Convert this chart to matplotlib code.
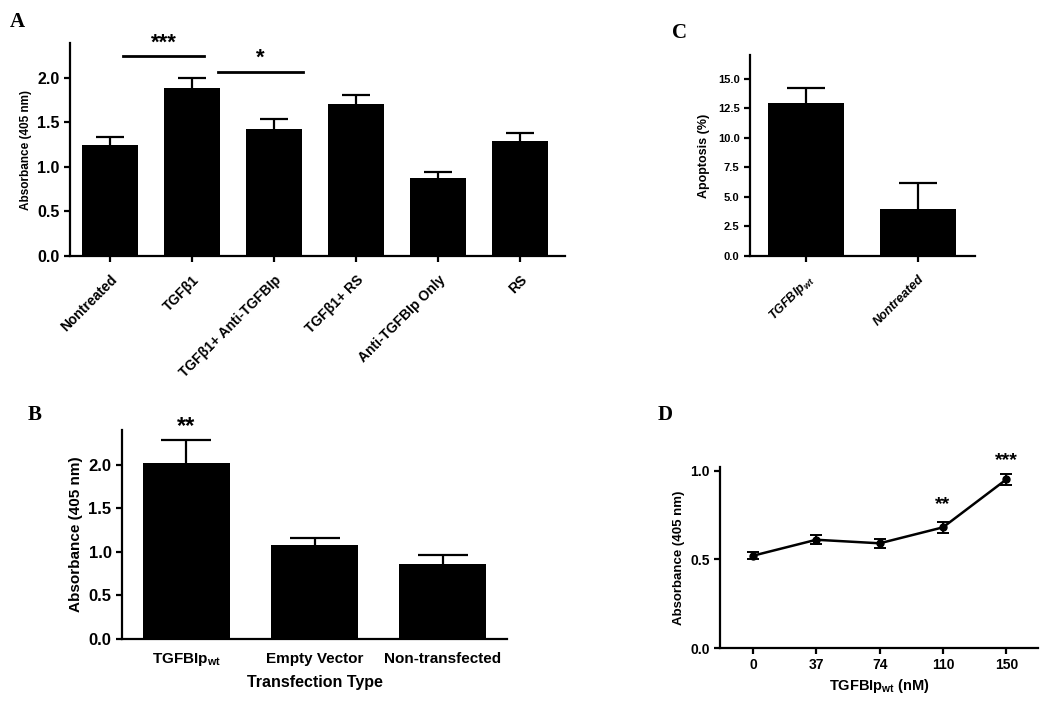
import matplotlib
matplotlib.use("Agg")
import matplotlib.pyplot as plt

plt.rcParams['font.family'] = ['Liberation Sans', 'DejaVu Sans']
plt.rcParams['font.weight'] = 'bold'
plt.rcParams['mathtext.default'] = 'regular'
plt.rcParams['axes.linewidth'] = 1.6

# Panel A
a_labels = ['Nontreated', 'TGFβ1', 'TGFβ1+ Anti-TGFBIp', 'TGFβ1+ RS', 'Anti-TGFBIp Only', 'RS']
a_means = [1.25, 1.89, 1.43, 1.71, 0.88, 1.29]
a_err = [0.09, 0.11, 0.11, 0.10, 0.06, 0.09]

# Panel B
b_labels = ['TGFBIp$_{wt}$', 'Empty Vector', 'Non-transfected']
b_means = [2.02, 1.08, 0.86]
b_err = [0.27, 0.08, 0.11]

# Panel C
c_labels = ['TGFBIp$_{wt}$', 'Nontreated']
c_means = [12.9, 4.0]
c_err = [1.3, 2.2]

# Panel D
d_labels = ['0', '37', '74', '110', '150']
d_means = [0.52, 0.61, 0.59, 0.68, 0.95]
d_err = [0.02, 0.025, 0.025, 0.03, 0.03]

W, H = 1050, 701
fig = plt.figure(figsize=(W / 100, H / 100), dpi=100)


def add_ax(left, right, top, bottom):
    return fig.add_axes([left / W, 1 - bottom / H, (right - left) / W, (bottom - top) / H])


def style(ax, ysize, xsize):
    for s in ['top', 'right']:
        ax.spines[s].set_visible(False)
    ax.tick_params(direction='out', width=1.6, length=4)
    ax.tick_params(axis='y', labelsize=ysize)
    ax.tick_params(axis='x', labelsize=xsize)


def bars(ax, means, err, width, cap):
    x = list(range(len(means)))
    ax.bar(x, means, width=width, color='black')
    _, caps, _ = ax.errorbar(x, means, yerr=[[0] * len(err), err], fmt='none', ecolor='black',
                             elinewidth=1.6, capsize=cap, capthick=1.6)
    caps[0].set_visible(False)  # only the upper half, GraphPad style
    return x


# ---- A ----
ax = add_ax(70, 565, 43, 256)
x = bars(ax, a_means, a_err, 0.69, 10)
ax.set_xlim(-0.49, 5.55)
ax.set_ylim(0, 2.39)
ax.set_yticks([0, 0.5, 1.0, 1.5, 2.0])
ax.set_xticks(x)
ax.set_xticklabels(a_labels, rotation=45, ha='right', rotation_mode='anchor')
ax.set_ylabel('Absorbance (405 nm)', fontsize=8.5, fontweight='bold')
style(ax, 11.5, 10)
ax.tick_params(axis='x', pad=8)
ax.plot([0.16, 1.15], [2.24, 2.24], color='black', lw=2)
ax.plot([1.32, 2.35], [2.07, 2.07], color='black', lw=2)
ax.text(0.65, 2.27, '***', ha='center', va='bottom', fontsize=16)
ax.text(1.83, 2.10, '*', ha='center', va='bottom', fontsize=16)
fig.text(10 / W, 1 - 22 / H, 'A', family='Liberation Serif', fontsize=15, fontweight='bold', va='center')

# ---- B ----
ax = add_ax(122, 507, 430, 639)
x = bars(ax, b_means, b_err, 0.68, 18)
ax.set_xlim(-0.5, 2.5)
ax.set_ylim(0, 2.4)
ax.set_yticks([0, 0.5, 1.0, 1.5, 2.0])
ax.set_xticks(x)
ax.set_xticklabels(b_labels)
for lab in ax.get_xticklabels():
    lab.set_verticalalignment('baseline')
ax.set_xlabel('Transfection Type', fontsize=11.5, fontweight='bold', labelpad=5)
ax.set_ylabel('Absorbance (405 nm)', fontsize=11, fontweight='bold')
style(ax, 12, 11)
ax.tick_params(axis='x', length=0, pad=17)
ax.text(0, b_means[0] + b_err[0] + 0.02, '**', ha='center', va='bottom', fontsize=17)
fig.text(28 / W, 1 - 415 / H, 'B', family='Liberation Serif', fontsize=15, fontweight='bold', va='center')

# ---- C ----
ax = add_ax(750, 975, 55, 256)
x = bars(ax, c_means, c_err, 0.68, 14)
ax.set_xlim(-0.5, 1.51)
ax.set_ylim(0, 17)
ax.set_yticks([0, 2.5, 5.0, 7.5, 10.0, 12.5, 15.0])
ax.set_xticks(x)
ax.set_xticklabels(c_labels, rotation=45, ha='right', rotation_mode='anchor', style='italic')
ax.set_ylabel('Apoptosis (%)', fontsize=9, fontweight='bold', labelpad=6)
style(ax, 8, 9)
ax.tick_params(axis='x', pad=8)
fig.text(672 / W, 1 - 33 / H, 'C', family='Liberation Serif', fontsize=15, fontweight='bold', va='center')

# ---- D ----
ax = add_ax(720, 1038, 467, 648)
xd = list(range(len(d_means)))
ax.errorbar(xd, d_means, yerr=d_err, fmt='-o', color='black', lw=1.8, ms=5,
            elinewidth=1.4, capsize=4, capthick=1.4)
ax.set_xlim(-0.52, 4.5)
ax.set_ylim(0, 1.02)
ax.set_yticks([0, 0.5, 1.0])
ax.set_xticks(xd)
ax.set_xticklabels(d_labels)
ax.set_xlabel('TGFBIp$_{wt}$ (nM)', fontsize=10.5, fontweight='bold', labelpad=3)
ax.set_ylabel('Absorbance (405 nm)', fontsize=9.5, fontweight='bold')
style(ax, 10, 10)
ax.text(3, 0.76, '**', ha='center', va='bottom', fontsize=14)
ax.text(4, 1.01, '***', ha='center', va='bottom', fontsize=14)
fig.text(658 / W, 1 - 415 / H, 'D', family='Liberation Serif', fontsize=15, fontweight='bold', va='center')

fig.savefig('out.png', dpi=100)
